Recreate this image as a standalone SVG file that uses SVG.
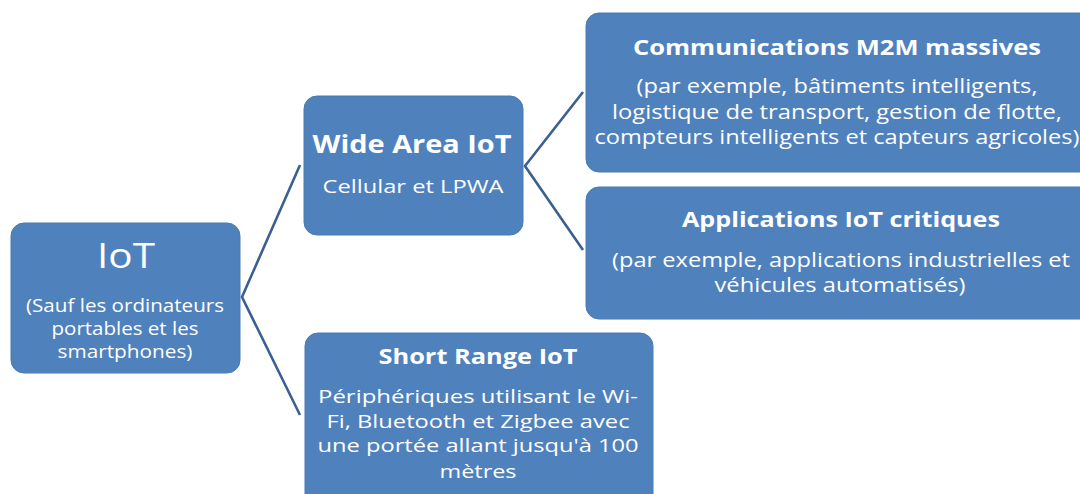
<svg xmlns="http://www.w3.org/2000/svg" width="1080" height="494" viewBox="0 0 1080 494">
<style>
.box{fill:#4F81BD;stroke:#4A7AB4;stroke-width:1}
.t{font-family:"Open Sans","Liberation Sans",Arial,sans-serif;fill:#FFFFFF;text-anchor:middle}
.b{font-weight:bold}
.conn{stroke:#3B6090;stroke-width:2.6;fill:none}
</style>
<rect width="1080" height="494" fill="#FFFFFF"/>
<g id="connectors">
<polyline class="conn" points="300,165 242,297 300,415"/>
<polyline class="conn" points="583,92 525,166 583,250"/>
</g>
<g id="node-iot">
<rect class="box" x="11" y="223" width="229" height="150" rx="13"/>
<text class="t" x="126" y="268" font-size="35" textLength="58" lengthAdjust="spacingAndGlyphs">IoT</text>
<text class="t" x="125" y="312" font-size="17.5" textLength="198" lengthAdjust="spacingAndGlyphs">(Sauf les ordinateurs</text>
<text class="t" x="125" y="335" font-size="17.5" textLength="147" lengthAdjust="spacingAndGlyphs">portables et les</text>
<text class="t" x="125" y="358" font-size="17.5" textLength="135" lengthAdjust="spacingAndGlyphs">smartphones)</text>
</g>
<g id="node-wide">
<rect class="box" x="304" y="96" width="219" height="139" rx="13"/>
<text class="t b" x="412" y="153" font-size="25" textLength="199" lengthAdjust="spacingAndGlyphs">Wide Area IoT</text>
<text class="t" x="413" y="193" font-size="18.5" textLength="181" lengthAdjust="spacingAndGlyphs">Cellular et LPWA</text>
</g>
<g id="node-m2m">
<rect class="box" x="586" y="13" width="510" height="159" rx="13"/>
<text class="t b" x="837" y="55" font-size="22" textLength="408" lengthAdjust="spacingAndGlyphs">Communications M2M massives</text>
<text class="t" x="837" y="93" font-size="19.5" textLength="401" lengthAdjust="spacingAndGlyphs">(par exemple, bâtiments intelligents,</text>
<text class="t" x="837" y="119" font-size="19.5" textLength="450" lengthAdjust="spacingAndGlyphs">logistique de transport, gestion de flotte,</text>
<text class="t" x="837" y="144" font-size="19.5" textLength="485" lengthAdjust="spacingAndGlyphs">compteurs intelligents et capteurs agricoles)</text>
</g>
<g id="node-critical">
<rect class="box" x="586" y="187" width="510" height="132" rx="13"/>
<text class="t b" x="841" y="227" font-size="22" textLength="318" lengthAdjust="spacingAndGlyphs">Applications IoT critiques</text>
<text class="t" x="841" y="267" font-size="19.5" textLength="458" lengthAdjust="spacingAndGlyphs">(par exemple, applications industrielles et</text>
<text class="t" x="840" y="292" font-size="19.5" textLength="251" lengthAdjust="spacingAndGlyphs">véhicules automatisés)</text>
</g>
<g id="node-short">
<rect class="box" x="305" y="333" width="348" height="175" rx="13"/>
<text class="t b" x="478" y="364" font-size="22" textLength="199" lengthAdjust="spacingAndGlyphs">Short Range IoT</text>
<text class="t" x="478" y="403" font-size="19" textLength="320" lengthAdjust="spacingAndGlyphs">Périphériques utilisant le Wi-</text>
<text class="t" x="478" y="428" font-size="19" textLength="303" lengthAdjust="spacingAndGlyphs">Fi, Bluetooth et Zigbee avec</text>
<text class="t" x="478" y="452" font-size="19" textLength="321" lengthAdjust="spacingAndGlyphs">une portée allant jusqu'à 100</text>
<text class="t" x="478" y="478" font-size="19" textLength="77" lengthAdjust="spacingAndGlyphs">mètres</text>
</g>
</svg>
